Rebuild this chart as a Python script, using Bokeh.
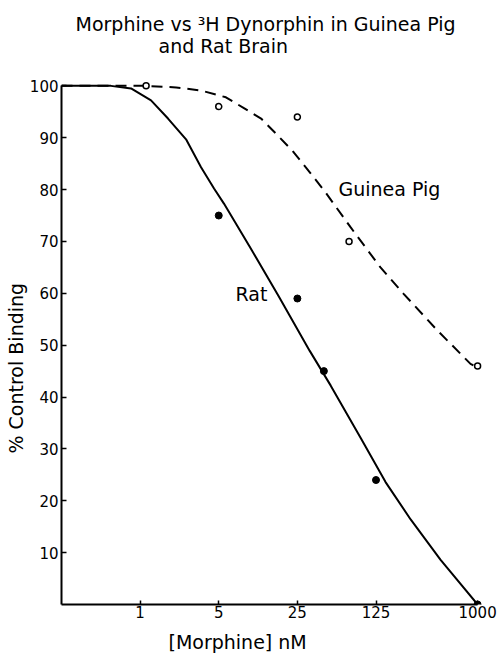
import math
from bokeh.plotting import figure
from bokeh.models import Range1d, FixedTicker, NumeralTickFormatter, Label, Title
from bokeh.embed import file_html
from bokeh.resources import INLINE

# ---- data ----
x_ticks = [1, 5, 25, 125, 1000]
y_ticks = [10, 20, 30, 40, 50, 60, 70, 80, 90, 100]

gp_conc = [1.13, 5, 25, 72, 1000]
gp_binding = [100, 96, 94, 70, 46]

rat_conc = [5, 25, 43, 125, 1000]
rat_binding = [75, 59, 45, 24, 0]

rat_curve_conc = [0.2, 0.55, 0.83, 1.25, 1.77, 2.56, 3.48, 4.54, 5.56, 9.66,
                  17.1, 32.2, 49.5, 91.4, 152, 254, 469, 1000]
rat_curve_binding = [100, 100, 99.5, 97.2, 93.7, 89.7, 84.3, 80.2, 77.3, 68.6,
                     59.4, 48.9, 42.2, 32.1, 23.6, 16.4, 8.6, 0]

gp_curve_conc = [0.2, 1.13, 2.09, 3.48, 5.79, 8.37, 11.9, 16.8, 23.2, 32.9,
                 44.7, 74.5, 137, 220, 441, 865, 1000]
gp_curve_binding = [100, 100, 99.7, 99.1, 97.8, 95.7, 93.7, 90.4, 87.2, 83.1,
                    79.4, 72.7, 65.0, 59.9, 52.8, 46.4, 45.7]

title_line1 = "Morphine vs \u00b3H Dynorphin in Guinea Pig"
title_line2 = "and Rat Brain"
x_label = "[Morphine]  nM"
y_label = "% Control Binding"

# ---- layout ----
W, H = 499, 660
BL, BR, BT, BB = 61, 13, 75, 56
X0, X1 = 0.2, 1200
Y0, Y1 = 0, 102
FONT = "DejaVu Sans"
TXT = "19px"

p = figure(width=W, height=H, x_axis_type="log",
           x_range=Range1d(X0, X1), y_range=Range1d(Y0, Y1),
           output_backend="svg", toolbar_location=None, title=None,
           min_border_left=BL, min_border_right=BR,
           min_border_top=BT, min_border_bottom=BB)
p.outline_line_color = None
p.xgrid.grid_line_color = None
p.ygrid.grid_line_color = None
p.background_fill_color = "white"
p.border_fill_color = "white"

xa = p.xaxis[0]
xa.ticker = FixedTicker(ticks=x_ticks, minor_ticks=[])
xa.formatter = NumeralTickFormatter(format="0")
xa.bounds = (0.2, 1000)
xa.major_tick_in = 4
xa.major_tick_out = 0
xa.minor_tick_line_color = None
xa.axis_line_width = 2
xa.major_tick_line_width = 1.5
xa.major_label_standoff = 1
xa.major_label_text_font = FONT
xa.major_label_text_font_size = "15px"
xa.major_label_text_color = "black"

ya = p.yaxis[0]
ya.ticker = FixedTicker(ticks=y_ticks, minor_ticks=[])
ya.bounds = (0, 100)
ya.major_tick_in = 5
ya.major_tick_out = 0
ya.minor_tick_line_color = None
ya.axis_line_width = 2
ya.major_tick_line_width = 1.5
ya.major_label_standoff = 3
ya.major_label_text_font = FONT
ya.major_label_text_font_size = "15px"
ya.major_label_text_color = "black"

# curves
p.line(rat_curve_conc, rat_curve_binding, line_color="black", line_width=2)
p.line(gp_curve_conc, gp_curve_binding, line_color="black", line_width=2,
       line_dash="11 7")

# points
p.scatter(rat_conc, rat_binding, size=7, marker="circle",
          fill_color="black", line_color="black")
p.scatter(gp_conc, gp_binding, size=6, marker="circle",
          fill_color="white", line_color="black", line_width=1.5)


def to_data(page_x, page_y):
    """Convert a page-pixel position into data units for label placement."""
    fw = W - BL - BR
    fh = H - BT - BB
    dec = math.log10(X1 / X0)
    x = X0 * 10 ** ((page_x - BL) / fw * dec)
    y = Y0 + (H - BB - page_y) / fh * (Y1 - Y0)
    return x, y


def add_label(text, page_x, page_y):
    x, y = to_data(page_x, page_y)
    p.add_layout(Label(x=x, y=y, text=text, text_font=FONT,
                       text_font_size=TXT, text_align="left",
                       text_baseline="middle", text_color="black"))


add_label("Guinea Pig", 338, 188)
add_label("Rat", 235, 293)


def make_title(text, offset, standoff):
    return Title(text=text, align="left", offset=offset, standoff=standoff,
                 text_font=FONT, text_font_size=TXT,
                 text_font_style="normal", text_color="black")


# titles (first added sits closest to the plot)
p.add_layout(make_title(title_line2, 97, 38), "above")
p.add_layout(make_title(title_line1, 14, -42), "above")

# axis labels as titles, to place them as in the reference
p.add_layout(make_title(x_label, 107, 16), "below")
p.add_layout(make_title(y_label, 151, 0), "left")

open("out.html", "w").write(file_html(p, INLINE))
